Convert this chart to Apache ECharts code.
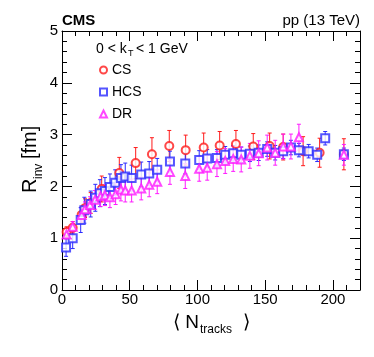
<!DOCTYPE html>
<html>
<head>
<meta charset="utf-8">
<script src="https://cdn.jsdelivr.net/npm/echarts@6/dist/echarts.min.js"></script>
<style>
    html, body { margin: 0; padding: 0; background: #fff; }
    #chart { width: 374px; height: 357px; }
</style>
</head>
<body>
<div id="chart"></div>
<script>
// CS (red circles)
const csN = [3.4, 7.9, 14.5, 17, 21.2, 29.3, 42.3, 54.4, 66.4, 79.2, 91.3, 104.6, 116.4, 128.4, 141.2, 153.3, 163.3, 178, 190.2, 208.1]
const csR = [1.12, 1.2, 1.45, 1.58, 1.68, 1.95, 2.26, 2.45, 2.62, 2.78, 2.7, 2.75, 2.79, 2.82, 2.77, 2.78, 2.76, 2.68, 2.65, 2.62]
const csErr = [0.1, 0.12, 0.15, 0.18, 0.2, 0.25, 0.3, 0.3, 0.32, 0.3, 0.29, 0.28, 0.27, 0.26, 0.25, 0.25, 0.25, 0.28, 0.28, 0.3]

// HCS (blue squares)
const hcsN = [3.0, 7.9, 13.8, 16.5, 21.2, 24.6, 28, 31.7, 35.4, 39.3, 43.5, 46.7, 51.4, 58.5, 64.4, 70.3, 79.7, 91, 101.3, 107.2, 114.4, 120.5, 126.4, 132.3, 138.7, 145.2, 151.5, 157.4, 163.3, 169, 174.9, 182.1, 188.4, 194.3, 208.1]
const hcsR = [0.82, 1.0, 1.35, 1.54, 1.66, 1.78, 1.87, 1.91, 1.99, 2.07, 2.16, 2.19, 2.16, 2.23, 2.25, 2.32, 2.48, 2.44, 2.51, 2.54, 2.55, 2.61, 2.64, 2.61, 2.63, 2.65, 2.72, 2.65, 2.68, 2.75, 2.7, 2.68, 2.61, 2.93, 2.62]
const hcsErr = [0.17, 0.2, 0.24, 0.25, 0.25, 0.26, 0.26, 0.26, 0.25, 0.25, 0.26, 0.26, 0.25, 0.24, 0.23, 0.22, 0.2, 0.2, 0.18, 0.17, 0.16, 0.16, 0.15, 0.15, 0.15, 0.15, 0.14, 0.14, 0.14, 0.14, 0.13, 0.13, 0.13, 0.13, 0.12]

// DR (magenta triangles)
const drN = [3.4, 7.9, 14.5, 17, 20.7, 24.4, 28.5, 31.7, 35.4, 39.6, 43.5, 46.7, 51.4, 58.5, 64.4, 70.3, 79.7, 91, 101.3, 107.2, 114.4, 120.5, 126.4, 132.3, 138.7, 145.2, 151.5, 157.4, 163.3, 169, 174.9, 208.1]
const drR = [1.07, 1.22, 1.45, 1.56, 1.64, 1.74, 1.81, 1.83, 1.79, 1.85, 1.94, 1.92, 1.92, 1.96, 2.03, 2.09, 2.28, 2.2, 2.34, 2.36, 2.43, 2.49, 2.53, 2.52, 2.59, 2.64, 2.75, 2.65, 2.77, 2.77, 2.95, 2.61]
const drErr = [0.08, 0.1, 0.12, 0.14, 0.16, 0.18, 0.2, 0.2, 0.2, 0.2, 0.22, 0.22, 0.22, 0.22, 0.23, 0.23, 0.24, 0.24, 0.24, 0.24, 0.24, 0.24, 0.24, 0.24, 0.24, 0.24, 0.24, 0.24, 0.24, 0.24, 0.25, 0.2]

const xTicks = [0, 50, 100, 150, 200]
const yTicks = [0, 1, 2, 3, 4, 5]

const FONT = "'Liberation Sans', Arial, sans-serif"
const RED = "#ff1a1a"
const BLUE = "#2a2aff"
const MAGENTA = "#ff1aff"

const points = (xs, ys) => xs.map((x, i) => [x, ys[i]])
const bars = (xs, ys, es) => xs.map((x, i) => [x, ys[i] - es[i], ys[i] + es[i]])

const renderErrorBar = function(params, api) {
    const x = api.value(0)
    const lo = api.coord([x, api.value(1)])
    const hi = api.coord([x, api.value(2)])
    const style = { stroke: api.visual("color"), lineWidth: 1 }
    const cap = 2
    return {
        type: "group",
        children: [
            { type: "line", shape: { x1: lo[0], y1: lo[1], x2: hi[0], y2: hi[1] }, style: style },
            { type: "line", shape: { x1: lo[0] - cap, y1: lo[1], x2: lo[0] + cap, y2: lo[1] }, style: style },
            { type: "line", shape: { x1: hi[0] - cap, y1: hi[1], x2: hi[0] + cap, y2: hi[1] }, style: style },
        ],
    }
}

const errSeries = (name, color, data) => ({
    name: name,
    type: "custom",
    renderItem: renderErrorBar,
    itemStyle: { color: color },
    encode: { x: 0, y: [1, 2] },
    data: data,
    silent: true,
    z: 2,
})

const markSeries = (name, symbol, size, color, data) => ({
    name: name,
    type: "scatter",
    symbol: symbol,
    symbolSize: size,
    itemStyle: { color: color, borderWidth: 1 },
    data: data,
    z: 3,
})

const axisBase = {
    axisLine: { show: true, onZero: false, lineStyle: { color: "#000", width: 1 } },
    axisTick: { show: true, inside: true, length: 10, lineStyle: { color: "#000", width: 1 } },
    minorTick: { show: true, splitNumber: 5, length: 5, lineStyle: { color: "#000", width: 1 } },
    splitLine: { show: false },
}

const chart = echarts.init(document.getElementById("chart"))

const option = {
    animation: false,
    backgroundColor: "#fff",
    grid: { left: 62, right: 14, top: 31, bottom: 67 },
    xAxis: [
        Object.assign({}, axisBase, {
            type: "value", min: 0, max: 220, interval: 50, position: "bottom",
            axisLabel: { color: "#000", fontFamily: FONT, fontSize: 15, margin: 2, showMaxLabel: false,
                formatter: (v) => xTicks.includes(v) ? String(v) : "" },
        }),
        Object.assign({}, axisBase, {
            type: "value", min: 0, max: 220, interval: 50, position: "top",
            axisLabel: { show: false },
        }),
    ],
    yAxis: [
        Object.assign({}, axisBase, {
            type: "value", min: 0, max: 5, interval: 1, position: "left",
            axisLabel: { color: "#000", fontFamily: FONT, fontSize: 15, margin: 4,
                formatter: (v) => yTicks.includes(v) ? String(v) : "" },
        }),
        Object.assign({}, axisBase, {
            type: "value", min: 0, max: 5, interval: 1, position: "right",
            axisLabel: { show: false },
        }),
    ],
    legend: {
        orient: "vertical",
        left: 99,
        top: 62,
        padding: 0,
        itemWidth: 7,
        itemHeight: 7,
        itemGap: 6,
        textStyle: { color: "#000", fontFamily: FONT, fontSize: 14, lineHeight: 16 },
        data: [
            { name: "CS", icon: "emptyCircle" },
            { name: "HCS", icon: "emptyRect" },
            { name: "DR", icon: "emptyTriangle" },
        ],
    },
    graphic: [
        { type: "text", left: 62, top: 13, style: { text: "CMS", font: "bold 15px " + FONT, fill: "#000" } },
        { type: "text", right: 14, top: 13, style: { text: "pp (13 TeV)", font: "15px " + FONT, fill: "#000" } },
        {
            type: "group", left: 96, top: 42,
            children: [
                { type: "text", x: 0, y: 0, style: { text: "0 < k", font: "14px " + FONT, fill: "#000" } },
                { type: "text", x: 32, y: 7, style: { text: "T", font: "9px " + FONT, fill: "#000" } },
                { type: "text", x: 40, y: 0, style: { text: "< 1 GeV", font: "14px " + FONT, fill: "#000" } },
            ],
        },
        {
            type: "group", x: 40, y: 193, rotation: Math.PI / 2,
            children: [
                { type: "text", x: 0, y: 0, style: { text: "R", font: "20px " + FONT, fill: "#000", verticalAlign: "bottom" } },
                { type: "text", x: 14, y: 5, style: { text: "inv", font: "12px " + FONT, fill: "#000", verticalAlign: "bottom" } },
                { type: "text", x: 34, y: 0, style: { text: "[fm]", font: "20px " + FONT, fill: "#000", verticalAlign: "bottom" } },
            ],
        },
        {
            type: "group", left: 173, top: 313,
            children: [
                { type: "text", x: 0, y: 0, style: { text: "⟨ N", font: "19px " + FONT, fill: "#000" } },
                { type: "text", x: 27, y: 11, style: { text: "tracks", font: "12px " + FONT, fill: "#000" } },
                { type: "text", x: 70, y: 0, style: { text: "⟩", font: "19px " + FONT, fill: "#000" } },
            ],
        },
    ],
    series: [
        errSeries("CS err", RED, bars(csN, csR, csErr)),
        errSeries("HCS err", BLUE, bars(hcsN, hcsR, hcsErr)),
        errSeries("DR err", MAGENTA, bars(drN, drR, drErr)),
        markSeries("CS", "emptyCircle", 8, RED, points(csN, csR)),
        markSeries("HCS", "emptyRect", 8, BLUE, points(hcsN, hcsR)),
        markSeries("DR", "emptyTriangle", 8, MAGENTA, points(drN, drR)),
    ],
}

chart.setOption(option)
</script>
</body>
</html>
